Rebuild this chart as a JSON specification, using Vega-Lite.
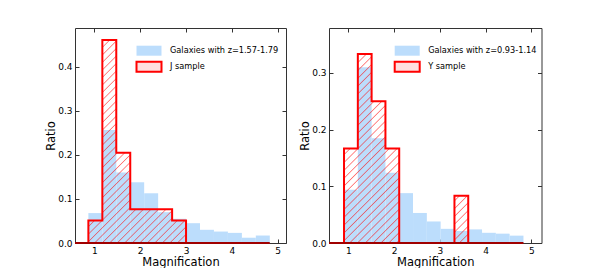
{
  "$schema": "https://vega.github.io/schema/vega-lite/v6.json",
  "padding": {"left": 45, "top": 27, "right": 0, "bottom": 0},
  "spacing": 12,
  "datasets": {
    "galJ": [
      {"lo": 0.869, "hi": 1.174, "ratio": 0.068},
      {"lo": 1.174, "hi": 1.478, "ratio": 0.257},
      {"lo": 1.478, "hi": 1.783, "ratio": 0.160},
      {"lo": 1.783, "hi": 2.087, "ratio": 0.138},
      {"lo": 2.087, "hi": 2.392, "ratio": 0.113},
      {"lo": 2.392, "hi": 2.697, "ratio": 0.070},
      {"lo": 2.697, "hi": 3.001, "ratio": 0.055},
      {"lo": 3.001, "hi": 3.306, "ratio": 0.045},
      {"lo": 3.306, "hi": 3.610, "ratio": 0.030},
      {"lo": 3.610, "hi": 3.915, "ratio": 0.026},
      {"lo": 3.915, "hi": 4.220, "ratio": 0.023},
      {"lo": 4.220, "hi": 4.524, "ratio": 0.012},
      {"lo": 4.524, "hi": 4.829, "ratio": 0.017}
    ],
    "sampJ": [
      {"m": 0.869, "r": 0.0513},
      {"m": 1.174, "r": 0.4615},
      {"m": 1.478, "r": 0.2051},
      {"m": 1.783, "r": 0.0769},
      {"m": 2.087, "r": 0.0769},
      {"m": 2.392, "r": 0.0769},
      {"m": 2.697, "r": 0.0513},
      {"m": 3.001, "r": 0}
    ],
    "galY": [
      {"lo": 0.905, "hi": 1.207, "ratio": 0.094},
      {"lo": 1.207, "hi": 1.508, "ratio": 0.310},
      {"lo": 1.508, "hi": 1.810, "ratio": 0.185},
      {"lo": 1.810, "hi": 2.111, "ratio": 0.124},
      {"lo": 2.111, "hi": 2.413, "ratio": 0.088},
      {"lo": 2.413, "hi": 2.715, "ratio": 0.053},
      {"lo": 2.715, "hi": 3.016, "ratio": 0.038},
      {"lo": 3.016, "hi": 3.318, "ratio": 0.025},
      {"lo": 3.318, "hi": 3.619, "ratio": 0.021},
      {"lo": 3.619, "hi": 3.921, "ratio": 0.024},
      {"lo": 3.921, "hi": 4.222, "ratio": 0.018},
      {"lo": 4.222, "hi": 4.524, "ratio": 0.0165},
      {"lo": 4.524, "hi": 4.826, "ratio": 0.013}
    ],
    "sampY": [
      {"m": 0.905, "r": 0.1667},
      {"m": 1.207, "r": 0.3333},
      {"m": 1.508, "r": 0.25},
      {"m": 1.810, "r": 0.1667},
      {"m": 2.111, "r": 0},
      {"m": 2.413, "r": 0},
      {"m": 2.715, "r": 0},
      {"m": 3.016, "r": 0},
      {"m": 3.318, "r": 0.0833},
      {"m": 3.619, "r": 0}
    ]
  },
  "resolve": {"scale": {"x": "independent", "y": "independent", "fill": "independent", "stroke": "independent"}, "legend": {"fill": "independent", "stroke": "independent"}},
  "hconcat": [
    {
      "width": 211,
      "height": 215,
      "layer": [
        {
          "data": {"name": "galJ"},
          "mark": {"type": "bar"},
          "encoding": {
            "x": {"field": "lo", "type": "quantitative", "scale": {"domain": [0.577, 5.183], "nice": false, "zero": false}, "axis": {"orient": "bottom", "values": [1, 2, 3, 4, 5], "format": "d", "title": "Magnification"}},
            "x2": {"field": "hi"},
            "y": {"field": "ratio", "type": "quantitative", "scale": {"domain": [0, 0.4886], "nice": false}, "axis": {"orient": "left", "values": [0, 0.1, 0.2, 0.3, 0.4], "format": ".1f", "title": "Ratio"}},
            "y2": {"datum": 0},
            "fill": {
              "datum": "Galaxies with z=1.57-1.79", "type": "nominal",
              "scale": {"domain": ["Galaxies with z=1.57-1.79", "J sample"], "range": ["#bcddfc", "rgba(255,0,0,0.13)"]},
              "legend": {"title": null, "orient": "none", "legendX": 68, "legendY": 16.7}
            },
            "stroke": {
              "datum": "Galaxies with z=1.57-1.79", "type": "nominal",
              "scale": {"domain": ["Galaxies with z=1.57-1.79", "J sample"], "range": ["rgba(0,0,0,0)", "#ff0000"]},
              "legend": {"title": null, "orient": "none", "legendX": 68, "legendY": 16.7}
            }
          }
        },
        {
          "data": {"name": "sampJ"},
          "mark": {"type": "area", "interpolate": "step-after", "stroke": "#ff0000", "strokeWidth": 2, "fill": {"gradient": "linear", "x1": 0, "y1": 0, "x2": 0.5774, "y2": 1.2028, "stops": [
            {"offset": 0, "color": "rgba(255,0,0,0)"},
            {"offset": 0.0175, "color": "rgba(255,0,0,0)"}, {"offset": 0.02125, "color": "rgba(255,0,0,0.55)"}, {"offset": 0.025, "color": "rgba(255,0,0,0)"},
            {"offset": 0.0425, "color": "rgba(255,0,0,0)"}, {"offset": 0.04625, "color": "rgba(255,0,0,0.55)"}, {"offset": 0.05, "color": "rgba(255,0,0,0)"},
            {"offset": 0.0675, "color": "rgba(255,0,0,0)"}, {"offset": 0.07125, "color": "rgba(255,0,0,0.55)"}, {"offset": 0.075, "color": "rgba(255,0,0,0)"},
            {"offset": 0.0925, "color": "rgba(255,0,0,0)"}, {"offset": 0.09625, "color": "rgba(255,0,0,0.55)"}, {"offset": 0.1, "color": "rgba(255,0,0,0)"},
            {"offset": 0.1175, "color": "rgba(255,0,0,0)"}, {"offset": 0.12125, "color": "rgba(255,0,0,0.55)"}, {"offset": 0.125, "color": "rgba(255,0,0,0)"},
            {"offset": 0.1425, "color": "rgba(255,0,0,0)"}, {"offset": 0.14625, "color": "rgba(255,0,0,0.55)"}, {"offset": 0.15, "color": "rgba(255,0,0,0)"},
            {"offset": 0.1675, "color": "rgba(255,0,0,0)"}, {"offset": 0.17125, "color": "rgba(255,0,0,0.55)"}, {"offset": 0.175, "color": "rgba(255,0,0,0)"},
            {"offset": 0.1925, "color": "rgba(255,0,0,0)"}, {"offset": 0.19625, "color": "rgba(255,0,0,0.55)"}, {"offset": 0.2, "color": "rgba(255,0,0,0)"},
            {"offset": 0.2175, "color": "rgba(255,0,0,0)"}, {"offset": 0.22125, "color": "rgba(255,0,0,0.55)"}, {"offset": 0.225, "color": "rgba(255,0,0,0)"},
            {"offset": 0.2425, "color": "rgba(255,0,0,0)"}, {"offset": 0.24625, "color": "rgba(255,0,0,0.55)"}, {"offset": 0.25, "color": "rgba(255,0,0,0)"},
            {"offset": 0.2675, "color": "rgba(255,0,0,0)"}, {"offset": 0.27125, "color": "rgba(255,0,0,0.55)"}, {"offset": 0.275, "color": "rgba(255,0,0,0)"},
            {"offset": 0.2925, "color": "rgba(255,0,0,0)"}, {"offset": 0.29625, "color": "rgba(255,0,0,0.55)"}, {"offset": 0.3, "color": "rgba(255,0,0,0)"},
            {"offset": 0.3175, "color": "rgba(255,0,0,0)"}, {"offset": 0.32125, "color": "rgba(255,0,0,0.55)"}, {"offset": 0.325, "color": "rgba(255,0,0,0)"},
            {"offset": 0.3425, "color": "rgba(255,0,0,0)"}, {"offset": 0.34625, "color": "rgba(255,0,0,0.55)"}, {"offset": 0.35, "color": "rgba(255,0,0,0)"},
            {"offset": 0.3675, "color": "rgba(255,0,0,0)"}, {"offset": 0.37125, "color": "rgba(255,0,0,0.55)"}, {"offset": 0.375, "color": "rgba(255,0,0,0)"},
            {"offset": 0.3925, "color": "rgba(255,0,0,0)"}, {"offset": 0.39625, "color": "rgba(255,0,0,0.55)"}, {"offset": 0.4, "color": "rgba(255,0,0,0)"},
            {"offset": 0.4175, "color": "rgba(255,0,0,0)"}, {"offset": 0.42125, "color": "rgba(255,0,0,0.55)"}, {"offset": 0.425, "color": "rgba(255,0,0,0)"},
            {"offset": 0.4425, "color": "rgba(255,0,0,0)"}, {"offset": 0.44625, "color": "rgba(255,0,0,0.55)"}, {"offset": 0.45, "color": "rgba(255,0,0,0)"},
            {"offset": 0.4675, "color": "rgba(255,0,0,0)"}, {"offset": 0.47125, "color": "rgba(255,0,0,0.55)"}, {"offset": 0.475, "color": "rgba(255,0,0,0)"},
            {"offset": 0.4925, "color": "rgba(255,0,0,0)"}, {"offset": 0.49625, "color": "rgba(255,0,0,0.55)"}, {"offset": 0.5, "color": "rgba(255,0,0,0)"},
            {"offset": 0.5175, "color": "rgba(255,0,0,0)"}, {"offset": 0.52125, "color": "rgba(255,0,0,0.55)"}, {"offset": 0.525, "color": "rgba(255,0,0,0)"},
            {"offset": 0.5425, "color": "rgba(255,0,0,0)"}, {"offset": 0.54625, "color": "rgba(255,0,0,0.55)"}, {"offset": 0.55, "color": "rgba(255,0,0,0)"},
            {"offset": 0.5675, "color": "rgba(255,0,0,0)"}, {"offset": 0.57125, "color": "rgba(255,0,0,0.55)"}, {"offset": 0.575, "color": "rgba(255,0,0,0)"},
            {"offset": 0.5925, "color": "rgba(255,0,0,0)"}, {"offset": 0.59625, "color": "rgba(255,0,0,0.55)"}, {"offset": 0.6, "color": "rgba(255,0,0,0)"},
            {"offset": 0.6175, "color": "rgba(255,0,0,0)"}, {"offset": 0.62125, "color": "rgba(255,0,0,0.55)"}, {"offset": 0.625, "color": "rgba(255,0,0,0)"},
            {"offset": 0.6425, "color": "rgba(255,0,0,0)"}, {"offset": 0.64625, "color": "rgba(255,0,0,0.55)"}, {"offset": 0.65, "color": "rgba(255,0,0,0)"},
            {"offset": 0.6675, "color": "rgba(255,0,0,0)"}, {"offset": 0.67125, "color": "rgba(255,0,0,0.55)"}, {"offset": 0.675, "color": "rgba(255,0,0,0)"},
            {"offset": 0.6925, "color": "rgba(255,0,0,0)"}, {"offset": 0.69625, "color": "rgba(255,0,0,0.55)"}, {"offset": 0.7, "color": "rgba(255,0,0,0)"},
            {"offset": 0.7175, "color": "rgba(255,0,0,0)"}, {"offset": 0.72125, "color": "rgba(255,0,0,0.55)"}, {"offset": 0.725, "color": "rgba(255,0,0,0)"},
            {"offset": 0.7425, "color": "rgba(255,0,0,0)"}, {"offset": 0.74625, "color": "rgba(255,0,0,0.55)"}, {"offset": 0.75, "color": "rgba(255,0,0,0)"},
            {"offset": 0.7675, "color": "rgba(255,0,0,0)"}, {"offset": 0.77125, "color": "rgba(255,0,0,0.55)"}, {"offset": 0.775, "color": "rgba(255,0,0,0)"},
            {"offset": 0.7925, "color": "rgba(255,0,0,0)"}, {"offset": 0.79625, "color": "rgba(255,0,0,0.55)"}, {"offset": 0.8, "color": "rgba(255,0,0,0)"},
            {"offset": 0.8175, "color": "rgba(255,0,0,0)"}, {"offset": 0.82125, "color": "rgba(255,0,0,0.55)"}, {"offset": 0.825, "color": "rgba(255,0,0,0)"},
            {"offset": 0.8425, "color": "rgba(255,0,0,0)"}, {"offset": 0.84625, "color": "rgba(255,0,0,0.55)"}, {"offset": 0.85, "color": "rgba(255,0,0,0)"},
            {"offset": 0.8675, "color": "rgba(255,0,0,0)"}, {"offset": 0.87125, "color": "rgba(255,0,0,0.55)"}, {"offset": 0.875, "color": "rgba(255,0,0,0)"},
            {"offset": 0.8925, "color": "rgba(255,0,0,0)"}, {"offset": 0.89625, "color": "rgba(255,0,0,0.55)"}, {"offset": 0.9, "color": "rgba(255,0,0,0)"},
            {"offset": 0.9175, "color": "rgba(255,0,0,0)"}, {"offset": 0.92125, "color": "rgba(255,0,0,0.55)"}, {"offset": 0.925, "color": "rgba(255,0,0,0)"},
            {"offset": 0.9425, "color": "rgba(255,0,0,0)"}, {"offset": 0.94625, "color": "rgba(255,0,0,0.55)"}, {"offset": 0.95, "color": "rgba(255,0,0,0)"},
            {"offset": 0.9675, "color": "rgba(255,0,0,0)"}, {"offset": 0.97125, "color": "rgba(255,0,0,0.55)"}, {"offset": 0.975, "color": "rgba(255,0,0,0)"},
            {"offset": 0.9925, "color": "rgba(255,0,0,0)"}, {"offset": 0.99625, "color": "rgba(255,0,0,0.55)"}, {"offset": 1, "color": "rgba(255,0,0,0)"}
          ]}},
          "encoding": {
            "x": {"field": "m", "type": "quantitative", "axis": {"orient": "top", "values": [1, 2, 3, 4, 5], "labels": false, "title": null}},
            "y": {"field": "r", "type": "quantitative", "stack": null, "axis": {"orient": "right", "values": [0, 0.1, 0.2, 0.3, 0.4], "labels": false, "title": null}}
          }
        },
        {
          "data": {"values": [{}]},
          "mark": {"type": "rule", "color": "#a00000", "strokeWidth": 2},
          "encoding": {
            "x": {"datum": 0.577, "type": "quantitative", "axis": null},
            "x2": {"datum": 4.829},
            "y": {"datum": 0, "type": "quantitative", "axis": null}
          }
        }
      ]
    },
    {
      "width": 212.5,
      "height": 215,
      "layer": [
        {
          "data": {"name": "galY"},
          "mark": {"type": "bar"},
          "encoding": {
            "x": {"field": "lo", "type": "quantitative", "scale": {"domain": [0.577, 5.22], "nice": false, "zero": false}, "axis": {"orient": "bottom", "values": [1, 2, 3, 4, 5], "format": "d", "title": "Magnification"}},
            "x2": {"field": "hi"},
            "y": {"field": "ratio", "type": "quantitative", "scale": {"domain": [0, 0.3794], "nice": false}, "axis": {"orient": "left", "values": [0, 0.1, 0.2, 0.3], "format": ".1f", "title": "Ratio"}},
            "y2": {"datum": 0},
            "fill": {
              "datum": "Galaxies with z=0.93-1.14", "type": "nominal",
              "scale": {"domain": ["Galaxies with z=0.93-1.14", "Y sample"], "range": ["#bcddfc", "rgba(255,0,0,0.13)"]},
              "legend": {"title": null, "orient": "none", "legendX": 72.2, "legendY": 16.7}
            },
            "stroke": {
              "datum": "Galaxies with z=0.93-1.14", "type": "nominal",
              "scale": {"domain": ["Galaxies with z=0.93-1.14", "Y sample"], "range": ["rgba(0,0,0,0)", "#ff0000"]},
              "legend": {"title": null, "orient": "none", "legendX": 72.2, "legendY": 16.7}
            }
          }
        },
        {
          "data": {"name": "sampY"},
          "mark": {"type": "area", "interpolate": "step-after", "stroke": "#ff0000", "strokeWidth": 2, "fill": {"gradient": "linear", "x1": 0, "y1": 0, "x2": 0.7609, "y2": 1.1572, "stops": [
            {"offset": 0, "color": "rgba(255,0,0,0)"},
            {"offset": 0.0175, "color": "rgba(255,0,0,0)"}, {"offset": 0.02125, "color": "rgba(255,0,0,0.55)"}, {"offset": 0.025, "color": "rgba(255,0,0,0)"},
            {"offset": 0.0425, "color": "rgba(255,0,0,0)"}, {"offset": 0.04625, "color": "rgba(255,0,0,0.55)"}, {"offset": 0.05, "color": "rgba(255,0,0,0)"},
            {"offset": 0.0675, "color": "rgba(255,0,0,0)"}, {"offset": 0.07125, "color": "rgba(255,0,0,0.55)"}, {"offset": 0.075, "color": "rgba(255,0,0,0)"},
            {"offset": 0.0925, "color": "rgba(255,0,0,0)"}, {"offset": 0.09625, "color": "rgba(255,0,0,0.55)"}, {"offset": 0.1, "color": "rgba(255,0,0,0)"},
            {"offset": 0.1175, "color": "rgba(255,0,0,0)"}, {"offset": 0.12125, "color": "rgba(255,0,0,0.55)"}, {"offset": 0.125, "color": "rgba(255,0,0,0)"},
            {"offset": 0.1425, "color": "rgba(255,0,0,0)"}, {"offset": 0.14625, "color": "rgba(255,0,0,0.55)"}, {"offset": 0.15, "color": "rgba(255,0,0,0)"},
            {"offset": 0.1675, "color": "rgba(255,0,0,0)"}, {"offset": 0.17125, "color": "rgba(255,0,0,0.55)"}, {"offset": 0.175, "color": "rgba(255,0,0,0)"},
            {"offset": 0.1925, "color": "rgba(255,0,0,0)"}, {"offset": 0.19625, "color": "rgba(255,0,0,0.55)"}, {"offset": 0.2, "color": "rgba(255,0,0,0)"},
            {"offset": 0.2175, "color": "rgba(255,0,0,0)"}, {"offset": 0.22125, "color": "rgba(255,0,0,0.55)"}, {"offset": 0.225, "color": "rgba(255,0,0,0)"},
            {"offset": 0.2425, "color": "rgba(255,0,0,0)"}, {"offset": 0.24625, "color": "rgba(255,0,0,0.55)"}, {"offset": 0.25, "color": "rgba(255,0,0,0)"},
            {"offset": 0.2675, "color": "rgba(255,0,0,0)"}, {"offset": 0.27125, "color": "rgba(255,0,0,0.55)"}, {"offset": 0.275, "color": "rgba(255,0,0,0)"},
            {"offset": 0.2925, "color": "rgba(255,0,0,0)"}, {"offset": 0.29625, "color": "rgba(255,0,0,0.55)"}, {"offset": 0.3, "color": "rgba(255,0,0,0)"},
            {"offset": 0.3175, "color": "rgba(255,0,0,0)"}, {"offset": 0.32125, "color": "rgba(255,0,0,0.55)"}, {"offset": 0.325, "color": "rgba(255,0,0,0)"},
            {"offset": 0.3425, "color": "rgba(255,0,0,0)"}, {"offset": 0.34625, "color": "rgba(255,0,0,0.55)"}, {"offset": 0.35, "color": "rgba(255,0,0,0)"},
            {"offset": 0.3675, "color": "rgba(255,0,0,0)"}, {"offset": 0.37125, "color": "rgba(255,0,0,0.55)"}, {"offset": 0.375, "color": "rgba(255,0,0,0)"},
            {"offset": 0.3925, "color": "rgba(255,0,0,0)"}, {"offset": 0.39625, "color": "rgba(255,0,0,0.55)"}, {"offset": 0.4, "color": "rgba(255,0,0,0)"},
            {"offset": 0.4175, "color": "rgba(255,0,0,0)"}, {"offset": 0.42125, "color": "rgba(255,0,0,0.55)"}, {"offset": 0.425, "color": "rgba(255,0,0,0)"},
            {"offset": 0.4425, "color": "rgba(255,0,0,0)"}, {"offset": 0.44625, "color": "rgba(255,0,0,0.55)"}, {"offset": 0.45, "color": "rgba(255,0,0,0)"},
            {"offset": 0.4675, "color": "rgba(255,0,0,0)"}, {"offset": 0.47125, "color": "rgba(255,0,0,0.55)"}, {"offset": 0.475, "color": "rgba(255,0,0,0)"},
            {"offset": 0.4925, "color": "rgba(255,0,0,0)"}, {"offset": 0.49625, "color": "rgba(255,0,0,0.55)"}, {"offset": 0.5, "color": "rgba(255,0,0,0)"},
            {"offset": 0.5175, "color": "rgba(255,0,0,0)"}, {"offset": 0.52125, "color": "rgba(255,0,0,0.55)"}, {"offset": 0.525, "color": "rgba(255,0,0,0)"},
            {"offset": 0.5425, "color": "rgba(255,0,0,0)"}, {"offset": 0.54625, "color": "rgba(255,0,0,0.55)"}, {"offset": 0.55, "color": "rgba(255,0,0,0)"},
            {"offset": 0.5675, "color": "rgba(255,0,0,0)"}, {"offset": 0.57125, "color": "rgba(255,0,0,0.55)"}, {"offset": 0.575, "color": "rgba(255,0,0,0)"},
            {"offset": 0.5925, "color": "rgba(255,0,0,0)"}, {"offset": 0.59625, "color": "rgba(255,0,0,0.55)"}, {"offset": 0.6, "color": "rgba(255,0,0,0)"},
            {"offset": 0.6175, "color": "rgba(255,0,0,0)"}, {"offset": 0.62125, "color": "rgba(255,0,0,0.55)"}, {"offset": 0.625, "color": "rgba(255,0,0,0)"},
            {"offset": 0.6425, "color": "rgba(255,0,0,0)"}, {"offset": 0.64625, "color": "rgba(255,0,0,0.55)"}, {"offset": 0.65, "color": "rgba(255,0,0,0)"},
            {"offset": 0.6675, "color": "rgba(255,0,0,0)"}, {"offset": 0.67125, "color": "rgba(255,0,0,0.55)"}, {"offset": 0.675, "color": "rgba(255,0,0,0)"},
            {"offset": 0.6925, "color": "rgba(255,0,0,0)"}, {"offset": 0.69625, "color": "rgba(255,0,0,0.55)"}, {"offset": 0.7, "color": "rgba(255,0,0,0)"},
            {"offset": 0.7175, "color": "rgba(255,0,0,0)"}, {"offset": 0.72125, "color": "rgba(255,0,0,0.55)"}, {"offset": 0.725, "color": "rgba(255,0,0,0)"},
            {"offset": 0.7425, "color": "rgba(255,0,0,0)"}, {"offset": 0.74625, "color": "rgba(255,0,0,0.55)"}, {"offset": 0.75, "color": "rgba(255,0,0,0)"},
            {"offset": 0.7675, "color": "rgba(255,0,0,0)"}, {"offset": 0.77125, "color": "rgba(255,0,0,0.55)"}, {"offset": 0.775, "color": "rgba(255,0,0,0)"},
            {"offset": 0.7925, "color": "rgba(255,0,0,0)"}, {"offset": 0.79625, "color": "rgba(255,0,0,0.55)"}, {"offset": 0.8, "color": "rgba(255,0,0,0)"},
            {"offset": 0.8175, "color": "rgba(255,0,0,0)"}, {"offset": 0.82125, "color": "rgba(255,0,0,0.55)"}, {"offset": 0.825, "color": "rgba(255,0,0,0)"},
            {"offset": 0.8425, "color": "rgba(255,0,0,0)"}, {"offset": 0.84625, "color": "rgba(255,0,0,0.55)"}, {"offset": 0.85, "color": "rgba(255,0,0,0)"},
            {"offset": 0.8675, "color": "rgba(255,0,0,0)"}, {"offset": 0.87125, "color": "rgba(255,0,0,0.55)"}, {"offset": 0.875, "color": "rgba(255,0,0,0)"},
            {"offset": 0.8925, "color": "rgba(255,0,0,0)"}, {"offset": 0.89625, "color": "rgba(255,0,0,0.55)"}, {"offset": 0.9, "color": "rgba(255,0,0,0)"},
            {"offset": 0.9175, "color": "rgba(255,0,0,0)"}, {"offset": 0.92125, "color": "rgba(255,0,0,0.55)"}, {"offset": 0.925, "color": "rgba(255,0,0,0)"},
            {"offset": 0.9425, "color": "rgba(255,0,0,0)"}, {"offset": 0.94625, "color": "rgba(255,0,0,0.55)"}, {"offset": 0.95, "color": "rgba(255,0,0,0)"},
            {"offset": 0.9675, "color": "rgba(255,0,0,0)"}, {"offset": 0.97125, "color": "rgba(255,0,0,0.55)"}, {"offset": 0.975, "color": "rgba(255,0,0,0)"},
            {"offset": 0.9925, "color": "rgba(255,0,0,0)"}, {"offset": 0.99625, "color": "rgba(255,0,0,0.55)"}, {"offset": 1, "color": "rgba(255,0,0,0)"}
          ]}},
          "encoding": {
            "x": {"field": "m", "type": "quantitative", "axis": {"orient": "top", "values": [1, 2, 3, 4, 5], "labels": false, "title": null}},
            "y": {"field": "r", "type": "quantitative", "stack": null, "axis": {"orient": "right", "values": [0, 0.1, 0.2, 0.3], "labels": false, "title": null}}
          }
        },
        {
          "data": {"values": [{}]},
          "mark": {"type": "rule", "color": "#a00000", "strokeWidth": 2},
          "encoding": {
            "x": {"datum": 0.577, "type": "quantitative", "axis": null},
            "x2": {"datum": 4.826},
            "y": {"datum": 0, "type": "quantitative", "axis": null}
          }
        }
      ]
    }
  ],
  "config": {
    "font": "DejaVu Sans",
    "view": {"stroke": "#333", "strokeWidth": 1},
    "axis": {
      "grid": false, "domain": false, "tickSize": -4, "tickColor": "#333", "tickWidth": 1,
      "labelPadding": 7, "labelFont": "DejaVu Sans", "labelFontSize": 9, "labelColor": "#000",
      "labelFlush": false, "labelOverlap": false,
      "titleFont": "DejaVu Sans", "titleFontSize": 11.5, "titleFontWeight": "normal", "titleColor": "#000", "titlePadding": 1
    },
    "legend": {
      "labelFont": "DejaVu Sans", "labelFontSize": 8.2, "labelColor": "#000",
      "padding": 0, "rowPadding": -2, "labelOffset": 15,
      "symbolType": "M-2.5,-1H2.5V1H-2.5Z", "symbolSize": 100, "symbolStrokeWidth": 2
    }
  }
}
